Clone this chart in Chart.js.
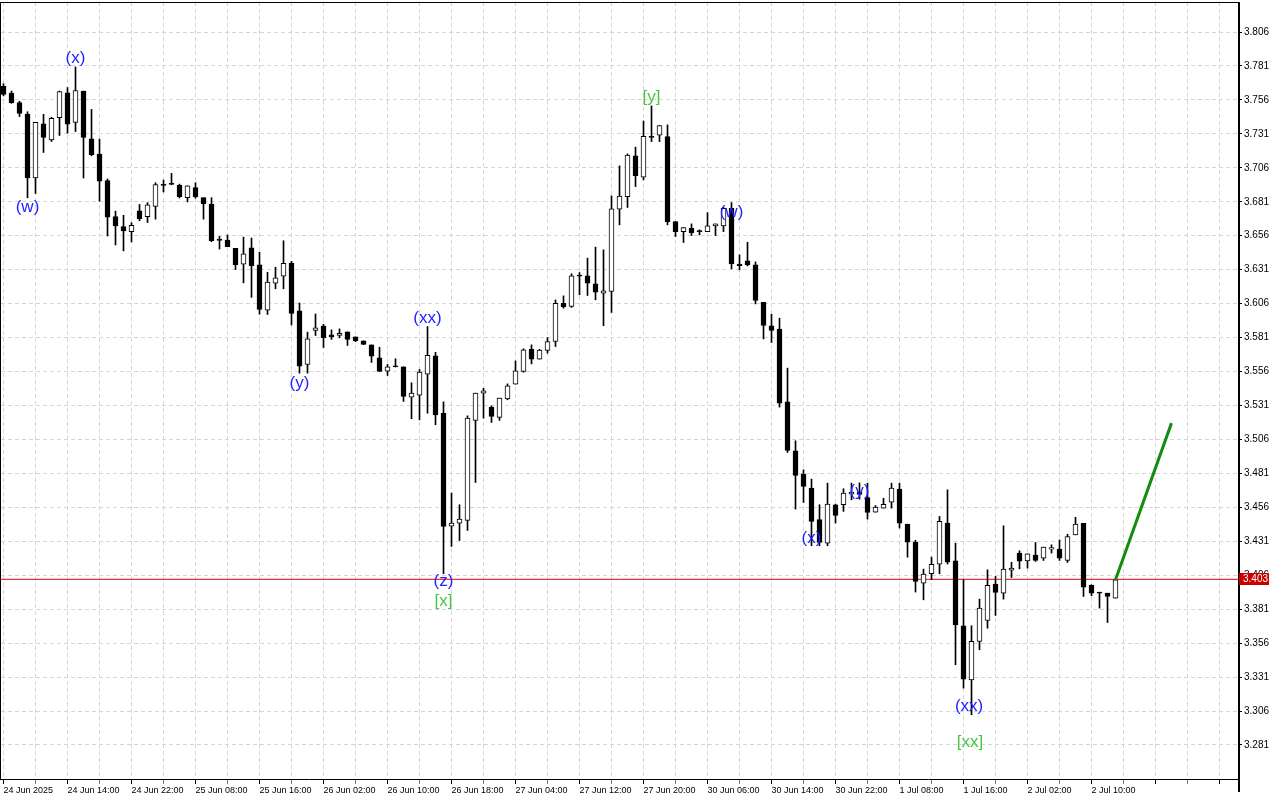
<!DOCTYPE html>
<html><head><meta charset="utf-8">
<script src="https://cdn.jsdelivr.net/npm/chart.js@4.4.1/dist/chart.umd.min.js"></script>
<style>html,body{margin:0;padding:0;background:#fff;}canvas{display:block;}</style>
</head><body>
<canvas id="c" width="1280" height="800"></canvas>
<script>
// ---------- data ----------
const timeLabels = ['24 Jun 2025','24 Jun 14:00','24 Jun 22:00','25 Jun 08:00','25 Jun 16:00','26 Jun 02:00','26 Jun 10:00','26 Jun 18:00','27 Jun 04:00','27 Jun 12:00','27 Jun 20:00','30 Jun 06:00','30 Jun 14:00','30 Jun 22:00','1 Jul 08:00','1 Jul 16:00','2 Jul 02:00','2 Jul 10:00'];
const opens = [3.766,3.761,3.754,3.7456,3.6985,3.7383,3.7266,3.7429,3.7612,3.7395,3.7625,3.7273,3.7161,3.6966,3.670,3.6627,3.659,3.6744,3.6701,3.6775,
3.6931,3.6938,3.6931,3.684,3.6914,3.684,3.6792,3.6526,3.6528,3.6467,3.635,3.647,3.6345,3.6011,3.6211,3.6262,3.6359,3.6006,3.5612,3.5862,
3.5894,3.583,3.5825,3.5852,3.5815,3.5786,3.5756,3.5661,3.5563,3.5595,3.5595,3.5372,3.5386,3.554,3.5675,3.5253,3.4422,3.4444,3.4464,3.52,
3.5401,3.5298,3.5222,3.5359,3.5467,3.556,3.5724,3.5651,3.5715,3.5781,3.6063,3.6039,3.6262,3.6265,3.6206,3.6137,3.6149,3.6755,3.6848,3.7148,
3.6991,3.7292,3.730,3.729,3.6664,3.659,3.6615,3.659,3.659,3.6632,3.6632,3.6762,3.6352,3.6375,3.6345,3.607,3.5896,3.5872,3.5337,3.4976,
3.4805,3.4702,3.4469,3.4297,3.4579,3.4579,3.4657,3.4672,3.4632,3.4524,3.4554,3.4598,3.4694,3.4436,3.4304,3.4002,3.4071,3.4142,3.4444,3.4166,
3.3688,3.329,3.3573,3.3727,3.3994,3.3928,3.4097,3.4223,3.4166,3.4208,3.4186,3.4252,3.4252,3.4169,3.4357,3.4443,3.3985,3.3928,3.3928,3.3891];
const highs = [3.768,3.7625,3.755,3.7473,3.7395,3.7454,3.7432,3.7625,3.7651,3.7803,3.7625,3.749,3.7271,3.6978,3.6741,3.671,3.6656,3.679,3.6804,3.695,
3.697,3.7019,3.694,3.6928,3.695,3.684,3.684,3.6555,3.6565,3.6467,3.655,3.6543,3.6438,3.6291,3.6328,3.6523,3.6371,3.6065,3.585,3.5984,
3.5908,3.5867,3.5874,3.5852,3.5815,3.5786,3.5756,3.5739,3.5612,3.5654,3.5595,3.5477,3.5575,3.5891,3.5702,3.5337,3.4665,3.4579,3.5234,3.5401,
3.5437,3.5307,3.5364,3.5469,3.5638,3.5727,3.5756,3.5724,3.581,3.6087,3.6117,3.628,3.6289,3.6395,3.6476,3.6456,3.6853,3.7074,3.7162,3.7212,
3.7405,3.7516,3.7371,3.7376,3.6664,3.662,3.6647,3.6603,3.673,3.6647,3.677,3.6804,3.6419,3.6512,3.6367,3.607,3.5982,3.5953,3.5585,3.505,
3.4836,3.4768,3.4579,3.4738,3.4584,3.4697,3.4738,3.474,3.4738,3.4573,3.4627,3.4738,3.4738,3.4436,3.4318,3.4105,3.4193,3.4493,3.4689,3.4296,
3.4027,3.3688,3.3884,3.41,3.4051,3.4424,3.4156,3.424,3.4218,3.4301,3.4267,3.4284,3.432,3.4362,3.4487,3.4443,3.399,3.3935,3.3928,3.4026];
const lows = [3.759,3.7535,3.7437,3.6839,3.6871,3.7173,3.7254,3.7298,3.7315,3.7327,3.6985,3.7149,3.6814,3.6558,3.6492,3.6448,3.6514,3.667,3.6657,3.6682,
3.6882,3.6935,3.6838,3.6809,3.6836,3.6682,3.6516,3.6462,3.6479,3.6311,3.6213,3.6106,3.5982,3.598,3.6169,3.6169,3.5903,3.5548,3.5548,3.5825,
3.5737,3.5796,3.5808,3.5752,3.578,3.5759,3.5627,3.556,3.5531,3.5593,3.534,3.5213,3.5204,3.5253,3.5168,3.4071,3.4272,3.4316,3.439,3.4743,
3.5217,3.5185,3.52,3.5352,3.5467,3.5555,3.5616,3.5651,3.5695,3.5744,3.6026,3.6032,3.6125,3.612,3.6088,3.5897,3.5995,3.664,3.6768,3.6922,
3.6971,3.7253,3.7253,3.664,3.6554,3.651,3.6561,3.6566,3.659,3.6561,3.659,3.6316,3.6308,3.6338,3.6058,3.58,3.5774,3.5298,3.4964,3.4547,
3.4596,3.4277,3.4277,3.4277,3.4444,3.453,3.4615,3.462,3.4473,3.4524,3.4554,3.4554,3.4407,3.4193,3.3936,3.3879,3.4027,3.4071,3.4142,3.3401,
3.3229,3.3033,3.3511,3.367,3.3764,3.3884,3.4043,3.4107,3.4112,3.4161,3.4169,3.4223,3.4169,3.4154,3.4357,3.3904,3.3909,3.3818,3.3712,3.3891];
const closes = [3.760,3.754,3.746,3.6985,3.7395,3.7283,3.7424,3.7622,3.7381,3.7629,3.7283,3.7156,3.6961,3.6697,3.6632,3.6595,3.6636,3.6685,3.6787,3.6936,
3.6931,3.6938,3.6848,3.6928,3.6845,3.6796,3.6523,3.6526,3.6479,3.6345,3.6426,3.634,3.6018,3.6218,3.625,3.6357,3.5987,3.560,3.5801,3.5881,
3.581,3.5815,3.5842,3.5796,3.5788,3.5759,3.5673,3.556,3.5595,3.5595,3.5377,3.5401,3.5555,3.568,3.5241,3.4419,3.4444,3.4473,3.5217,3.5401,
3.5418,3.5229,3.5364,3.5455,3.5565,3.5719,3.5651,3.5717,3.5781,3.6063,3.6038,3.6265,3.6262,3.6211,3.6144,3.6154,3.6758,3.6851,3.7153,3.7003,
3.7292,3.7283,3.7371,3.6664,3.659,3.662,3.6583,3.659,3.6632,3.6647,3.6762,3.6352,3.634,3.6345,3.6083,3.5899,3.5862,3.5327,3.4979,3.4795,
3.4714,3.4456,3.4302,3.4584,3.4501,3.4665,3.4672,3.4655,3.4522,3.4561,3.4583,3.4701,3.4444,3.4304,3.4014,3.4068,3.414,3.4456,3.4157,3.3695,
3.3295,3.3573,3.3818,3.3985,3.3933,3.4105,3.4112,3.4164,3.4218,3.4169,3.4267,3.4264,3.4186,3.4345,3.4436,3.3972,3.3928,3.3928,3.3904,3.4026];
const priceTicks = [3.281,3.306,3.331,3.356,3.381,3.406,3.431,3.456,3.481,3.506,3.531,3.556,3.581,3.606,3.631,3.656,3.681,3.706,3.731,3.756,3.781,3.806];
const currentPrice = 3.403;
const forecastBars = [139, 146];
const forecastPrices = [3.4026, 3.518];
const waveText  = ['(w)','(x)','(y)','(xx)','(z)','[x]','[y]','(w)','(x)','(y)','(xx)','[xx]'];
const waveBar   = [3, 9, 37, 53, 55, 55, 81, 91, 101, 107, 120.7, 120.8];
const wavePrice = [3.6772, 3.7869, 3.5476, 3.5954, 3.4018, 3.3871, 3.7581, 3.6735, 3.4335, 3.4680, 3.3097, 3.2832];

// ---------- view ----------
const BAR_STEP = 8;
const X_MIN = -0.3125, X_MAX = X_MIN + 1237 / BAR_STEP;
const Y_MAX = 3.82809, Y_MIN = 3.25596;

const bodies = opens.map((o, i) => ({x: i, y: [o, closes[i]]}));
const wicks = lows.map((l, i) => ({x: i, y: [l, highs[i]]}));
const bodyFill = opens.map((o, i) => closes[i] > o ? '#ffffff' : '#000000');
const xTickVals = []; for (let v = 0; v <= X_MAX; v += 4) xTickVals.push(v);

const fontFam = "'Liberation Sans', Arial, sans-serif";

const framePlugin = {
  id: 'frame',
  afterDraw(chart) {
    const {ctx, chartArea: a} = chart;
    ctx.save();
    ctx.strokeStyle = '#000';
    ctx.lineWidth = 1;
    ctx.beginPath();
    ctx.moveTo(0.5, a.top + 0.5); ctx.lineTo(a.right, a.top + 0.5);
    ctx.moveTo(0.5, a.top); ctx.lineTo(0.5, a.bottom + 1);
    ctx.moveTo(0, a.bottom + 0.5); ctx.lineTo(a.right, a.bottom + 0.5);
    ctx.stroke();
    ctx.lineWidth = 2;
    ctx.beginPath();
    ctx.moveTo(a.right + 1, a.top); ctx.lineTo(a.right + 1, 792);
    ctx.stroke();
    // current price tag
    const y = chart.scales.y.getPixelForValue(currentPrice);
    ctx.fillStyle = '#c80000';
    ctx.fillRect(a.right + 1, Math.round(y) - 6, 30, 12);
    ctx.fillStyle = '#fff';
    ctx.font = '10px ' + fontFam;
    ctx.textBaseline = 'middle';
    ctx.textAlign = 'left';
    ctx.fillText(currentPrice.toFixed(3), a.right + 5, Math.round(y));
    ctx.restore();
  }
};

const wavePlugin = {
  id: 'waves',
  afterDatasetsDraw(chart) {
    const {ctx, scales: {x, y}} = chart;
    ctx.save();
    ctx.font = '17px ' + fontFam;
    ctx.textAlign = 'center';
    ctx.textBaseline = 'middle';
    waveText.forEach((t, k) => {
      ctx.fillStyle = t[0] === '[' ? '#46c846' : '#2323ff';
      ctx.fillText(t, x.getPixelForValue(waveBar[k]), y.getPixelForValue(wavePrice[k]));
    });
    ctx.restore();
  }
};

new Chart(document.getElementById('c'), {
  type: 'bar',
  data: {
    datasets: [
      { type: 'line', data: forecastBars.map((b, i) => ({x: b, y: forecastPrices[i]})),
        borderColor: '#148c14', borderWidth: 3, pointRadius: 0, order: 0 },
      { type: 'bar', data: bodies, grouped: false, barThickness: 5, minBarLength: 1,
        backgroundColor: bodyFill, borderColor: '#000', borderWidth: 1, borderSkipped: false, order: 1 },
      { type: 'bar', data: wicks, grouped: false, barThickness: 1,
        backgroundColor: '#000', borderWidth: 0, order: 2 },
      { type: 'line', data: [{x: X_MIN, y: currentPrice}, {x: X_MAX, y: currentPrice}],
        borderColor: '#e00000', borderWidth: 1, pointRadius: 0, order: 3 }
    ]
  },
  options: {
    responsive: false, animation: false, devicePixelRatio: 1,
    layout: {padding: {left: 1, top: 2, right: 0, bottom: 0}},
    plugins: {legend: {display: false}, tooltip: {enabled: false}},
    events: [],
    scales: {
      x: {
        type: 'linear', min: X_MIN, max: X_MAX, offset: false,
        grid: {offset: false, color: '#d6d6d6', drawTicks: true, tickLength: 5,
               tickColor: c => (c.tick && c.tick.value % 8 === 0) ? '#000' : '#777'},
        border: {display: false, dash: [4, 3]},
        ticks: {
          autoSkip: false, maxRotation: 0, minRotation: 0, align: 'start', labelOffset: 0, padding: 1,
          color: '#000', font: {family: fontFam, size: 9},
          callback: v => (v % 8 === 0 && timeLabels[v / 8] !== undefined) ? timeLabels[v / 8] : ''
        },
        afterBuildTicks: s => { s.ticks = xTickVals.map(v => ({value: v})); },
        afterFit: s => { s.height = 21; s.paddingLeft = 0; s.paddingRight = 0; }
      },
      y: {
        type: 'linear', position: 'right', min: Y_MIN, max: Y_MAX,
        grid: {color: '#d6d6d6', drawTicks: true, tickLength: 4, tickColor: '#000'},
        border: {display: false, dash: [4, 3]},
        ticks: {color: '#000', font: {family: fontFam, size: 10}, padding: 2,
                callback: v => Number(v).toFixed(3)},
        afterBuildTicks: s => { s.ticks = priceTicks.map(v => ({value: v})); },
        afterFit: s => { s.width = 42; s.paddingTop = 0; s.paddingBottom = 0; }
      }
    }
  },
  plugins: [wavePlugin, framePlugin]
});
</script>
</body></html>
